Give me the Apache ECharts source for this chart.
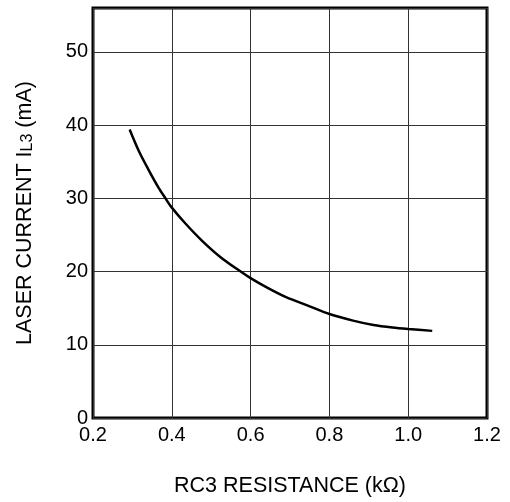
<!DOCTYPE html>
<html>
<head>
<meta charset="utf-8">
<script src="https://cdn.jsdelivr.net/npm/echarts@6/dist/echarts.min.js"></script>
<style>html,body{margin:0;padding:0;background:#fff}#c{width:510px;height:502px}</style>
</head>
<body>
<div id="c"></div>
<script>
// Data
var resistance = [0.293, 0.316, 0.341, 0.367, 0.384, 0.399, 0.434, 0.477, 0.523, 0.572, 0.600, 0.642, 0.690, 0.750, 0.800, 0.860, 0.912, 0.960, 1.000, 1.061];
var current    = [39.4, 36.5, 33.9, 31.4, 30.0, 28.8, 26.6, 24.2, 22.0, 20.1, 19.1, 17.8, 16.5, 15.25, 14.2, 13.3, 12.7, 12.35, 12.15, 11.9];
var xTicks = [0.2, 0.4, 0.6, 0.8, 1.0, 1.2];
var yTicks = [0, 10, 20, 30, 40, 50];

var chart = echarts.init(document.getElementById('c'), null, {renderer: 'canvas'});
var font = 'Liberation Sans, Arial, sans-serif';
chart.setOption({
  animation: false,
  grid: {left: 93, right: 23, top: 8, bottom: 82, show: true, borderColor: '#000', borderWidth: 3, backgroundColor: 'transparent'},
  xAxis: {
    type: 'value', min: 0.2, max: 1.2, interval: 0.2,
    name: 'RC3 RESISTANCE (kΩ)', nameLocation: 'middle', nameGap: 57,
    nameTextStyle: {fontFamily: font, fontSize: 21.5, color: '#000'},
    axisLine: {show: false}, axisTick: {show: false},
    axisLabel: {fontFamily: font, fontSize: 20, color: '#000', margin: 7,
      formatter: function (v) { return v.toFixed(1); }},
    splitLine: {show: true, lineStyle: {color: '#333', width: 1}}
  },
  yAxis: {
    type: 'value', min: 0, max: 56, interval: 10,
    name: '{n|LASER CURRENT I}{s|L3}{n| (mA)}', nameLocation: 'middle', nameGap: 57,
    nameTextStyle: {fontFamily: font, fontSize: 21.5, color: '#000',
      rich: {n: {fontFamily: font, fontSize: 21.5, color: '#000', verticalAlign: 'bottom'},
             s: {fontFamily: font, fontSize: 16, color: '#000', verticalAlign: 'bottom'}}},
    axisLine: {show: false}, axisTick: {show: false},
    axisLabel: {fontFamily: font, fontSize: 20, color: '#000', margin: 5,
      formatter: function (v) { return yTicks.indexOf(v) >= 0 ? String(v) : ''; }},
    splitLine: {show: true, lineStyle: {color: '#333', width: 1}}
  },
  series: [{
    type: 'line', smooth: 0.3, symbol: 'none',
    data: resistance.map(function (r, i) { return [r, current[i]]; }),
    lineStyle: {color: '#000', width: 2.5}
  }]
});
</script>
</body>
</html>
